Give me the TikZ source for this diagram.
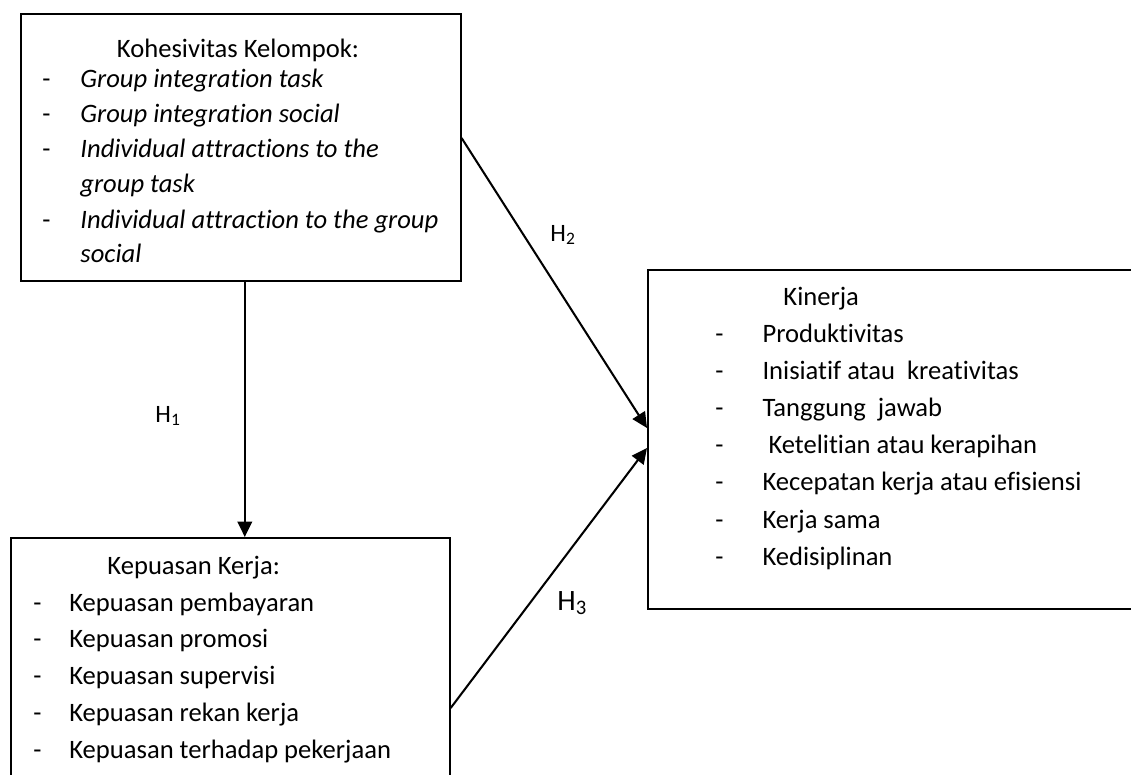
\documentclass[tikz,border=0pt]{standalone}
\usepackage{fontspec}
\setmainfont{Carlito}[Ligatures=CommonOff]
\usetikzlibrary{arrows.meta, calc}

\newcommand{\dashitem}[2]{\makebox[#1][l]{-}#2}

\tikzset{
  box/.style={draw, line width=0.7pt, inner sep=0pt},
  txt/.style={anchor=base west, inner sep=0pt, font=\fontsize{11.7pt}{14pt}\selectfont},
  arr/.style={-{Triangle[length=6.8pt,width=6.4pt]}, line width=0.9pt}
}

\begin{document}
\begin{tikzpicture}[x=0.44pt, y=-0.44pt]
  \useasboundingbox (0,0) rectangle (1131,774);
  \clip (0,0) rectangle (1131,774);

  % boxes
  \node[box, anchor=north west, minimum width=193.6pt, minimum height=117.5pt] (kohesi) at (20,13) {};
  \node[box, anchor=north west, minimum width=193.2pt, minimum height=132pt] (kepuasan) at (10,537) {};
  \node[box, anchor=north west, minimum width=246pt, minimum height=149.2pt] (kinerja) at (647,269) {};

  % Kohesivitas Kelompok
  \node[txt, anchor=base] (ktitle) at (238,57) {Kohesivitas Kelompok:};
  \node[txt] (k1) at (42,87) {\dashitem{16.7pt}{\textit{Group integration task}}};
  \node[txt] (k2) at (42,122) {\dashitem{16.7pt}{\textit{Group integration social}}};
  \node[txt] (k3) at (42,157) {\dashitem{16.7pt}{\textit{Individual attractions to the}}};
  \node[txt] (k4) at (80,192) {\textit{group task}};
  \node[txt] (k5) at (42,228) {\dashitem{16.7pt}{\textit{Individual attraction to the group}}};
  \node[txt] (k6) at (80,262) {\textit{social}};

  % Kepuasan Kerja
  \node[txt] (ptitle) at (107,574) {Kepuasan Kerja:};
  \foreach \txt [count=\i] in {Kepuasan pembayaran, Kepuasan promosi, Kepuasan supervisi,
      Kepuasan rekan kerja, Kepuasan terhadap pekerjaan}
    \node[txt] (p\i) at (33,{611+36.8*(\i-1)}) {\dashitem{15.8pt}{\txt}};

  % Kinerja
  \node[txt] (ntitle) at (783,305) {Kinerja};
  \foreach \txt [count=\i] in {Produktivitas, Inisiatif atau~ kreativitas, Tanggung~ jawab,
      \ Ketelitian atau kerapihan, Kecepatan kerja atau efisiensi, Kerja sama, Kedisiplinan}
    \node[txt] (n\i) at (715,{342+37.2*(\i-1)}) {\dashitem{20.7pt}{\txt}};

  % hipotesis
  \draw[arr] ($(kohesi.south)+(4,0)$) coordinate (h1top) -- (h1top |- kepuasan.north);
  \draw[arr] ($(kohesi.north east)+(0,125)$) -- ($(kinerja.north west)+(0,159)$);
  \draw[arr] ($(kepuasan.north east)+(0,171)$) -- ($(kinerja.north west)+(0,179)$);

  \node[txt, font=\fontsize{11pt}{13pt}\selectfont] (h1) at (155,422) {H\textsubscript{1}};
  \node[txt, font=\fontsize{11pt}{13pt}\selectfont] (h2) at (550,241) {H\textsubscript{2}};
  \node[txt, font=\fontsize{13pt}{15pt}\selectfont] (h3) at (557,610) {H\textsubscript{3}};
\end{tikzpicture}
\end{document}
